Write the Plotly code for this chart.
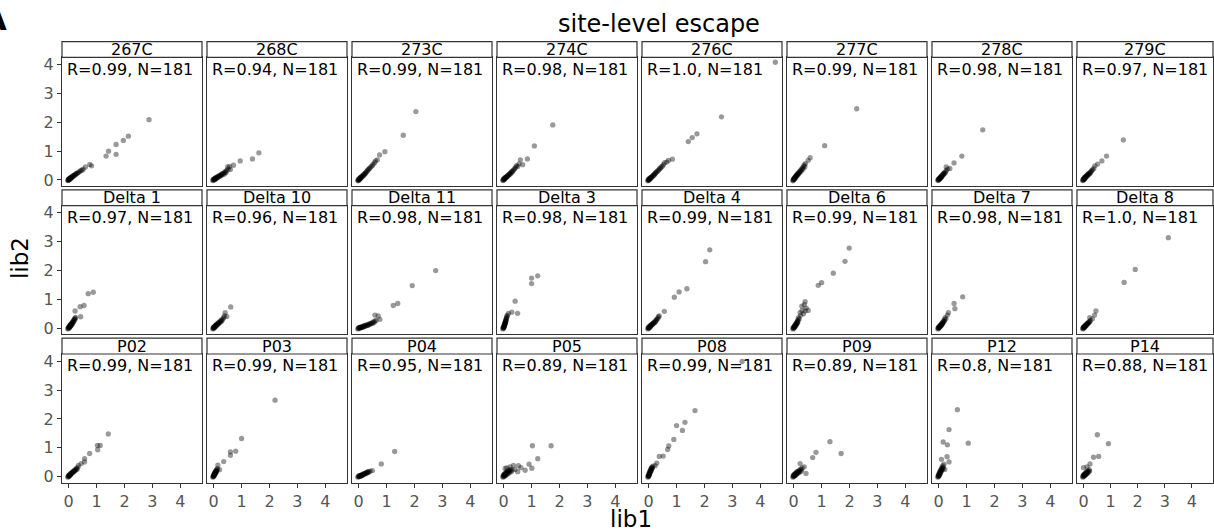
import plotly.graph_objects as go

# ---------------- data (lib1, lib2) per panel ----------------
PANEL_NAMES = ["267C", "268C", "273C", "274C", "276C", "277C", "278C", "279C",
               "Delta 1", "Delta 10", "Delta 11", "Delta 3", "Delta 4", "Delta 6", "Delta 7", "Delta 8",
               "P02", "P03", "P04", "P05", "P08", "P09", "P12", "P14"]
R_VALUES = ["0.99", "0.94", "0.99", "0.98", "1.0", "0.99", "0.98", "0.97",
            "0.97", "0.96", "0.98", "0.98", "0.99", "0.99", "0.98", "1.0",
            "0.99", "0.99", "0.95", "0.89", "0.99", "0.89", "0.8", "0.88"]
N_VALUES = [181] * 24

PTS_267C = [(-0.03,-0.02),(-0.02,0.0),(-0.01,-0.01),(0.0,0.02),(0.0,0.04),(0.01,0.01),(0.02,0.03),(0.03,0.05),(0.04,0.02),(0.05,0.06),(0.06,0.04),(0.07,0.08),(0.08,0.07),(0.09,0.09),(0.1,0.1),(0.12,0.09),(0.13,0.13),(0.15,0.12),(0.17,0.15),(0.19,0.16),(0.21,0.18),(0.23,0.17),(0.25,0.2),(0.27,0.22),(0.3,0.23),(0.33,0.25),(0.36,0.27),(0.4,0.3),(0.44,0.33),(0.48,0.34),(0.52,0.38),(0.6,0.45),(0.76,0.54),(0.82,0.49),(1.34,0.83),(1.43,1.0),(1.7,1.23),(1.7,0.89),(1.96,1.37),(2.14,1.52),(2.88,2.09)]
PTS_268C = [(-0.03,-0.02),(-0.02,0.01),(0.0,0.0),(0.0,0.03),(0.02,0.02),(0.03,0.05),(0.04,0.01),(0.05,0.04),(0.06,0.07),(0.08,0.05),(0.09,0.09),(0.1,0.06),(0.12,0.1),(0.13,0.08),(0.15,0.12),(0.16,0.1),(0.18,0.14),(0.2,0.12),(0.22,0.16),(0.24,0.14),(0.26,0.18),(0.28,0.2),(0.3,0.17),(0.32,0.22),(0.35,0.24),(0.37,0.2),(0.4,0.27),(0.42,0.3),(0.44,0.25),(0.47,0.33),(0.5,0.45),(0.52,0.38),(0.57,0.47),(0.6,0.36),(0.71,0.51),(0.95,0.66),(1.39,0.73),(1.62,0.94)]
PTS_273C = [(-0.03,-0.03),(-0.02,0.0),(0.0,-0.01),(0.0,0.02),(0.01,0.04),(0.02,0.01),(0.03,0.03),(0.04,0.06),(0.05,0.04),(0.06,0.08),(0.07,0.06),(0.08,0.1),(0.1,0.09),(0.11,0.13),(0.13,0.12),(0.15,0.16),(0.17,0.15),(0.19,0.2),(0.21,0.19),(0.23,0.24),(0.25,0.23),(0.27,0.28),(0.3,0.3),(0.32,0.34),(0.35,0.36),(0.38,0.4),(0.41,0.42),(0.45,0.47),(0.49,0.5),(0.52,0.55),(0.57,0.6),(0.6,0.66),(0.67,0.7),(0.75,0.87),(0.94,0.98),(1.6,1.55),(2.05,2.37)]
PTS_274C = [(-0.03,-0.02),(-0.02,0.01),(0.0,0.0),(0.0,0.03),(0.01,0.05),(0.02,0.02),(0.03,0.04),(0.04,0.07),(0.05,0.05),(0.06,0.09),(0.08,0.08),(0.09,0.11),(0.1,0.1),(0.12,0.13),(0.14,0.12),(0.15,0.16),(0.17,0.18),(0.19,0.17),(0.21,0.21),(0.23,0.23),(0.25,0.22),(0.27,0.27),(0.29,0.3),(0.31,0.28),(0.34,0.33),(0.37,0.36),(0.4,0.4),(0.43,0.44),(0.46,0.5),(0.5,0.47),(0.55,0.56),(0.6,0.7),(0.68,0.53),(0.85,0.73),(1.1,1.18),(1.76,1.91)]
PTS_276C = [(-0.03,-0.03),(-0.02,0.0),(0.0,-0.01),(0.0,0.02),(0.01,0.04),(0.02,0.01),(0.03,0.03),(0.04,0.06),(0.06,0.05),(0.07,0.08),(0.08,0.07),(0.1,0.1),(0.11,0.12),(0.13,0.11),(0.15,0.15),(0.17,0.17),(0.19,0.16),(0.21,0.21),(0.23,0.22),(0.25,0.25),(0.27,0.27),(0.3,0.29),(0.33,0.32),(0.36,0.35),(0.39,0.39),(0.42,0.41),(0.45,0.45),(0.49,0.48),(0.53,0.53),(0.57,0.6),(0.65,0.62),(0.71,0.68),(0.85,0.72),(1.42,1.33),(1.56,1.47),(1.73,1.6),(2.61,2.19),(4.54,4.08)]
PTS_277C = [(-0.03,-0.03),(-0.02,0.0),(0.0,0.01),(0.0,0.04),(0.01,0.02),(0.02,0.06),(0.03,0.04),(0.04,0.08),(0.05,0.1),(0.06,0.07),(0.07,0.12),(0.08,0.14),(0.09,0.11),(0.1,0.16),(0.11,0.18),(0.12,0.15),(0.14,0.2),(0.15,0.23),(0.16,0.19),(0.18,0.25),(0.2,0.28),(0.21,0.24),(0.23,0.31),(0.25,0.34),(0.27,0.3),(0.29,0.38),(0.31,0.42),(0.33,0.37),(0.35,0.47),(0.38,0.52),(0.42,0.57),(0.4,0.45),(0.52,0.68),(0.59,0.77),(1.11,1.19),(2.26,2.47)]
PTS_278C = [(-0.03,-0.02),(-0.02,0.01),(0.0,0.0),(0.0,0.03),(0.01,0.05),(0.02,0.02),(0.03,0.06),(0.04,0.04),(0.05,0.08),(0.06,0.06),(0.07,0.1),(0.08,0.12),(0.09,0.09),(0.1,0.13),(0.11,0.15),(0.12,0.12),(0.14,0.17),(0.15,0.2),(0.17,0.18),(0.18,0.22),(0.2,0.25),(0.22,0.23),(0.24,0.28),(0.27,0.32),(0.27,0.45),(0.32,0.38),(0.4,0.4),(0.55,0.59),(0.83,0.83),(1.58,1.74)]
PTS_279C = [(-0.03,-0.02),(-0.02,0.0),(0.0,0.02),(0.0,0.04),(0.01,0.01),(0.02,0.06),(0.03,0.03),(0.04,0.08),(0.05,0.05),(0.06,0.1),(0.07,0.08),(0.08,0.12),(0.09,0.1),(0.1,0.14),(0.12,0.13),(0.13,0.17),(0.15,0.15),(0.16,0.2),(0.18,0.19),(0.2,0.23),(0.22,0.21),(0.24,0.26),(0.26,0.25),(0.28,0.3),(0.31,0.33),(0.34,0.36),(0.38,0.4),(0.42,0.49),(0.52,0.55),(0.68,0.66),(0.85,0.83),(1.47,1.39)]
PTS_DELTA1 = [(-0.03,-0.02),(-0.02,0.01),(0.0,0.0),(0.0,0.04),(0.01,0.02),(0.02,0.06),(0.03,0.03),(0.03,0.08),(0.04,0.05),(0.05,0.1),(0.06,0.07),(0.06,0.12),(0.07,0.09),(0.08,0.14),(0.09,0.11),(0.1,0.16),(0.11,0.13),(0.12,0.19),(0.13,0.16),(0.14,0.22),(0.15,0.2),(0.16,0.25),(0.18,0.23),(0.19,0.28),(0.2,0.31),(0.23,0.31),(0.22,0.35),(0.25,0.38),(0.43,0.4),(0.23,0.6),(0.41,0.75),(0.55,0.79),(0.7,1.2),(0.88,1.25)]
PTS_DELTA10 = [(-0.03,-0.02),(-0.02,0.01),(0.0,0.0),(0.0,0.03),(0.01,0.05),(0.02,0.02),(0.03,0.06),(0.04,0.04),(0.05,0.08),(0.06,0.06),(0.07,0.1),(0.08,0.08),(0.09,0.12),(0.1,0.1),(0.11,0.14),(0.12,0.12),(0.14,0.16),(0.15,0.14),(0.17,0.19),(0.18,0.17),(0.2,0.22),(0.22,0.2),(0.24,0.25),(0.26,0.23),(0.28,0.29),(0.3,0.27),(0.33,0.33),(0.36,0.37),(0.38,0.43),(0.47,0.41),(0.41,0.54),(0.61,0.74)]
PTS_DELTA11 = [(-0.03,-0.02),(-0.01,0.0),(0.0,0.02),(0.02,0.0),(0.03,0.03),(0.05,0.01),(0.06,0.04),(0.08,0.02),(0.1,0.05),(0.11,0.03),(0.13,0.06),(0.15,0.04),(0.17,0.08),(0.19,0.06),(0.21,0.09),(0.23,0.07),(0.25,0.11),(0.27,0.09),(0.3,0.12),(0.32,0.1),(0.35,0.14),(0.37,0.12),(0.4,0.16),(0.43,0.15),(0.46,0.19),(0.49,0.17),(0.52,0.22),(0.55,0.2),(0.58,0.25),(0.62,0.27),(0.76,0.31),(0.58,0.46),(0.7,0.43),(1.24,0.79),(1.4,0.86),(1.92,1.48),(2.76,2.0)]
PTS_DELTA3 = [(-0.03,-0.02),(-0.02,0.02),(-0.01,0.0),(0.0,0.05),(0.0,0.02),(0.01,0.08),(0.01,0.04),(0.02,0.11),(0.02,0.07),(0.03,0.14),(0.03,0.1),(0.04,0.17),(0.04,0.13),(0.05,0.2),(0.05,0.16),(0.06,0.23),(0.06,0.19),(0.07,0.26),(0.07,0.22),(0.08,0.29),(0.08,0.25),(0.09,0.32),(0.1,0.35),(0.11,0.38),(0.12,0.42),(0.13,0.45),(0.17,0.52),(0.29,0.56),(0.5,0.52),(0.41,0.94),(1.0,1.55),(1.0,1.74),(1.22,1.82)]
PTS_DELTA4 = [(-0.03,-0.02),(-0.02,0.01),(0.0,0.0),(0.0,0.03),(0.01,0.05),(0.02,0.02),(0.03,0.06),(0.04,0.04),(0.05,0.08),(0.06,0.06),(0.07,0.1),(0.08,0.09),(0.09,0.12),(0.1,0.11),(0.12,0.14),(0.13,0.13),(0.15,0.17),(0.16,0.16),(0.18,0.2),(0.2,0.19),(0.22,0.23),(0.24,0.22),(0.26,0.27),(0.28,0.29),(0.3,0.32),(0.33,0.35),(0.35,0.4),(0.38,0.43),(0.56,0.59),(0.92,1.08),(1.09,1.26),(1.37,1.37),(2.04,2.31),(2.19,2.72)]
PTS_DELTA6 = [(-0.03,-0.02),(-0.02,0.01),(0.0,0.0),(0.0,0.04),(0.01,0.02),(0.02,0.07),(0.03,0.04),(0.04,0.1),(0.05,0.06),(0.06,0.13),(0.07,0.09),(0.08,0.16),(0.09,0.12),(0.1,0.19),(0.11,0.15),(0.12,0.22),(0.13,0.18),(0.14,0.26),(0.15,0.22),(0.16,0.3),(0.17,0.37),(0.2,0.33),(0.23,0.54),(0.25,0.45),(0.29,0.77),(0.3,0.62),(0.35,0.5),(0.41,0.6),(0.41,0.92),(0.45,0.7),(0.52,0.62),(0.38,0.82),(0.88,1.49),(1.0,1.58),(1.42,1.91),(1.84,2.32),(1.99,2.78)]
PTS_DELTA7 = [(-0.03,-0.02),(-0.02,0.01),(0.0,0.0),(0.0,0.04),(0.01,0.02),(0.02,0.06),(0.03,0.04),(0.04,0.08),(0.05,0.06),(0.06,0.1),(0.07,0.08),(0.08,0.12),(0.09,0.1),(0.1,0.15),(0.11,0.13),(0.12,0.17),(0.13,0.15),(0.14,0.2),(0.15,0.18),(0.17,0.23),(0.18,0.26),(0.2,0.24),(0.21,0.3),(0.23,0.37),(0.26,0.33),(0.31,0.46),(0.35,0.54),(0.58,0.68),(0.55,0.86),(0.86,1.09)]
PTS_DELTA8 = [(-0.03,-0.02),(-0.02,0.01),(0.0,0.0),(0.0,0.03),(0.01,0.05),(0.02,0.02),(0.03,0.06),(0.04,0.04),(0.05,0.08),(0.06,0.06),(0.07,0.1),(0.08,0.08),(0.09,0.12),(0.1,0.11),(0.11,0.14),(0.13,0.13),(0.14,0.17),(0.16,0.16),(0.17,0.2),(0.19,0.19),(0.21,0.23),(0.23,0.22),(0.25,0.27),(0.23,0.37),(0.33,0.33),(0.41,0.46),(0.46,0.6),(1.5,1.59),(1.91,2.04),(3.13,3.14)]
PTS_P02 = [(-0.03,-0.02),(-0.02,0.01),(0.0,0.0),(0.0,0.03),(0.01,0.05),(0.02,0.02),(0.03,0.06),(0.04,0.04),(0.05,0.08),(0.06,0.06),(0.07,0.1),(0.08,0.08),(0.09,0.12),(0.1,0.11),(0.12,0.14),(0.13,0.13),(0.15,0.17),(0.16,0.15),(0.18,0.2),(0.2,0.18),(0.22,0.23),(0.24,0.21),(0.26,0.26),(0.28,0.28),(0.3,0.25),(0.33,0.32),(0.35,0.39),(0.45,0.45),(0.57,0.51),(0.57,0.62),(0.75,0.8),(1.04,0.93),(1.03,1.08),(1.13,1.08),(1.42,1.48)]
PTS_P03 = [(-0.03,-0.02),(-0.02,0.01),(-0.01,0.0),(0.0,0.04),(0.0,0.02),(0.01,0.07),(0.01,0.03),(0.02,0.09),(0.02,0.05),(0.03,0.11),(0.03,0.07),(0.04,0.13),(0.05,0.1),(0.05,0.15),(0.06,0.12),(0.07,0.17),(0.08,0.14),(0.08,0.2),(0.09,0.16),(0.1,0.22),(0.11,0.19),(0.12,0.25),(0.13,0.28),(0.21,0.24),(0.15,0.4),(0.36,0.52),(0.6,0.74),(0.6,0.86),(0.79,0.88),(1.0,1.32),(2.2,2.65)]
PTS_P04 = [(-0.03,-0.02),(-0.01,0.0),(0.0,0.02),(0.02,0.0),(0.03,0.03),(0.04,0.01),(0.06,0.04),(0.07,0.02),(0.09,0.05),(0.1,0.03),(0.12,0.07),(0.13,0.05),(0.15,0.08),(0.16,0.06),(0.18,0.1),(0.2,0.08),(0.22,0.11),(0.24,0.1),(0.26,0.13),(0.28,0.12),(0.3,0.15),(0.33,0.14),(0.33,0.17),(0.37,0.16),(0.41,0.19),(0.49,0.21),(0.81,0.44),(1.29,0.87)]
PTS_P05 = [(-0.03,-0.02),(-0.02,0.02),(0.0,0.0),(0.0,0.05),(0.01,0.08),(0.02,0.02),(0.03,0.06),(0.04,0.1),(0.05,0.03),(0.06,0.08),(0.07,0.13),(0.08,0.05),(0.09,0.11),(0.1,0.16),(0.11,0.08),(0.12,0.14),(0.14,0.19),(0.15,0.1),(0.17,0.16),(0.19,0.22),(0.2,0.13),(0.22,0.19),(0.25,0.25),(0.27,0.17),(0.3,0.22),(0.05,0.28),(0.11,0.3),(0.23,0.34),(0.35,0.39),(0.4,0.25),(0.5,0.17),(0.53,0.38),(0.62,0.31),(0.77,0.22),(0.91,0.43),(1.01,0.29),(1.22,0.62),(1.03,1.07),(1.7,1.07)]
PTS_P08 = [(-0.03,-0.02),(-0.02,0.02),(-0.01,0.0),(0.0,0.05),(0.0,0.02),(0.01,0.08),(0.01,0.04),(0.02,0.11),(0.02,0.07),(0.03,0.14),(0.03,0.1),(0.04,0.17),(0.05,0.13),(0.05,0.2),(0.06,0.16),(0.07,0.23),(0.08,0.19),(0.08,0.27),(0.09,0.22),(0.1,0.3),(0.11,0.26),(0.12,0.33),(0.13,0.3),(0.15,0.36),(0.23,0.38),(0.29,0.47),(0.38,0.7),(0.52,0.71),(0.68,0.94),(0.72,1.06),(0.9,1.29),(1.0,1.77),(1.21,1.6),(1.3,1.88),(1.66,2.29),(3.35,3.99)]
PTS_P09 = [(-0.03,-0.02),(-0.02,0.02),(0.0,0.0),(0.0,0.04),(0.01,0.07),(0.02,0.02),(0.03,0.05),(0.04,0.09),(0.05,0.04),(0.06,0.08),(0.07,0.12),(0.08,0.06),(0.09,0.1),(0.1,0.15),(0.11,0.09),(0.12,0.13),(0.14,0.18),(0.15,0.12),(0.17,0.16),(0.18,0.21),(0.2,0.15),(0.22,0.2),(0.24,0.26),(0.26,0.18),(0.28,0.24),(0.3,0.3),(0.23,0.45),(0.38,0.34),(0.44,0.11),(0.68,0.66),(0.8,0.84),(1.3,1.21),(1.7,0.8)]
PTS_P12 = [(-0.03,-0.02),(-0.02,0.02),(-0.01,0.0),(0.0,0.05),(0.0,0.02),(0.01,0.09),(0.02,0.04),(0.02,0.12),(0.03,0.07),(0.04,0.15),(0.05,0.1),(0.05,0.19),(0.06,0.13),(0.07,0.22),(0.08,0.16),(0.09,0.26),(0.1,0.2),(0.11,0.3),(0.12,0.23),(0.13,0.34),(0.14,0.27),(0.15,0.38),(0.17,0.3),(0.19,0.43),(0.22,0.25),(0.1,0.6),(0.3,0.69),(0.37,0.51),(0.31,1.1),(0.16,1.2),(1.06,1.16),(0.37,1.63),(0.67,2.32)]
PTS_P14 = [(-0.03,-0.02),(-0.02,0.02),(0.0,0.0),(0.0,0.04),(0.01,0.07),(0.02,0.02),(0.03,0.05),(0.04,0.09),(0.05,0.04),(0.06,0.08),(0.07,0.12),(0.08,0.06),(0.09,0.1),(0.1,0.15),(0.11,0.09),(0.12,0.13),(0.14,0.18),(0.15,0.12),(0.17,0.2),(0.19,0.16),(0.21,0.24),(0.23,0.19),(0.0,0.31),(0.13,0.34),(0.24,0.44),(0.37,0.67),(0.56,0.7),(0.51,1.45),(0.92,1.14)]

PANEL_POINTS = [PTS_267C, PTS_268C, PTS_273C, PTS_274C, PTS_276C, PTS_277C, PTS_278C, PTS_279C,
                PTS_DELTA1, PTS_DELTA10, PTS_DELTA11, PTS_DELTA3, PTS_DELTA4, PTS_DELTA6, PTS_DELTA7, PTS_DELTA8,
                PTS_P02, PTS_P03, PTS_P04, PTS_P05, PTS_P08, PTS_P09, PTS_P12, PTS_P14]
TICKS = [0, 1, 2, 3, 4]

# ---------------- layout geometry (pixels) ----------------
W, H = 1214, 532
NCOL = 8
FONT = "DejaVu Sans"
FRAME = "#333333"
TICKCOL = "#555555"

def fx(p):
    return p / W

def fy(p):
    return 1 - p / H

fig = go.Figure()
layout = dict(
    width=W, height=H, margin=dict(l=0, r=0, t=0, b=0),
    paper_bgcolor="white", plot_bgcolor="white", showlegend=False,
    font=dict(family=FONT, color="black"),
)
shapes = []
annotations = []

for i, (name, pts) in enumerate(zip(PANEL_NAMES, PANEL_POINTS)):
    r, c = divmod(i, NCOL)
    left = 62 + 145 * c
    right = min(left + 140, W - 1)
    top = 56 + 150 * r
    bottom = 186 + 150 * r
    strip_top = 40 + 150 * r
    k = "" if i == 0 else str(i + 1)
    fig.add_trace(go.Scatter(
        x=[p[0] for p in pts], y=[p[1] for p in pts], mode="markers",
        xaxis="x" + k, yaxis="y" + k,
        marker=dict(size=5.3, color="rgba(0,0,0,0.4)", line=dict(width=0)),
        hoverinfo="skip",
    ))
    layout["xaxis" + k] = dict(
        domain=[fx(left), fx(right)], anchor="y" + k, range=[-0.24, 4.78],
        showgrid=False, zeroline=False, showline=True, mirror=True,
        linecolor=FRAME, linewidth=1.2,
        tickvals=TICKS, ticks="outside" if r == 2 else "", ticklen=4,
        tickcolor=FRAME, showticklabels=(r == 2),
        tickfont=dict(size=16, color=TICKCOL, family=FONT),
    )
    layout["yaxis" + k] = dict(
        domain=[fy(bottom), fy(top)], anchor="x" + k, range=[-0.205, 4.25],
        showgrid=False, zeroline=False, showline=True, mirror=True,
        linecolor=FRAME, linewidth=1.2,
        tickvals=TICKS, ticks="outside" if c == 0 else "", ticklen=4,
        tickcolor=FRAME, showticklabels=(c == 0),
        tickfont=dict(size=16, color=TICKCOL, family=FONT),
    )
    # facet strip
    shapes.append(dict(type="rect", xref="paper", yref="paper",
                       x0=fx(left), x1=fx(right), y0=fy(top), y1=fy(strip_top),
                       fillcolor="white", line=dict(color=FRAME, width=1.2)))
    annotations.append(dict(text=name, xref="paper", yref="paper",
                            x=fx((left + right) / 2), y=fy((top + strip_top) / 2),
                            xanchor="center", yanchor="middle", showarrow=False,
                            font=dict(size=16, color="black", family=FONT)))
    annotations.append(dict(text=f"R={R_VALUES[i]}, N={N_VALUES[i]}",
                            xref="paper", yref="paper",
                            x=fx(left + 3), y=fy(top + 12),
                            xanchor="left", yanchor="middle", showarrow=False,
                            font=dict(size=16, color="black", family=FONT)))

annotations += [
    dict(text="site-level escape", xref="paper", yref="paper", x=fx(659), y=fy(22),
         xanchor="center", yanchor="middle", showarrow=False,
         font=dict(size=24, color="black", family=FONT)),
    dict(text="lib1", xref="paper", yref="paper", x=fx(631), y=fy(523),
         xanchor="center", yanchor="middle", showarrow=False, borderpad=0,
         font=dict(size=23, color="black", family=FONT)),
    dict(text="lib2", xref="paper", yref="paper", x=fx(20), y=fy(259),
         xanchor="center", yanchor="middle", showarrow=False, textangle=-90,
         font=dict(size=23, color="black", family=FONT)),
    dict(text="<b>A</b>", xref="paper", yref="paper", x=fx(9), y=fy(38),
         xanchor="right", yanchor="bottom", showarrow=False,
         font=dict(size=32, color="black", family=FONT)),
]
layout["shapes"] = shapes
layout["annotations"] = annotations
fig.update_layout(**layout)
fig.write_html("out.html", config={"displayModeBar": False},
               post_script="document.body.style.margin='0px';")
